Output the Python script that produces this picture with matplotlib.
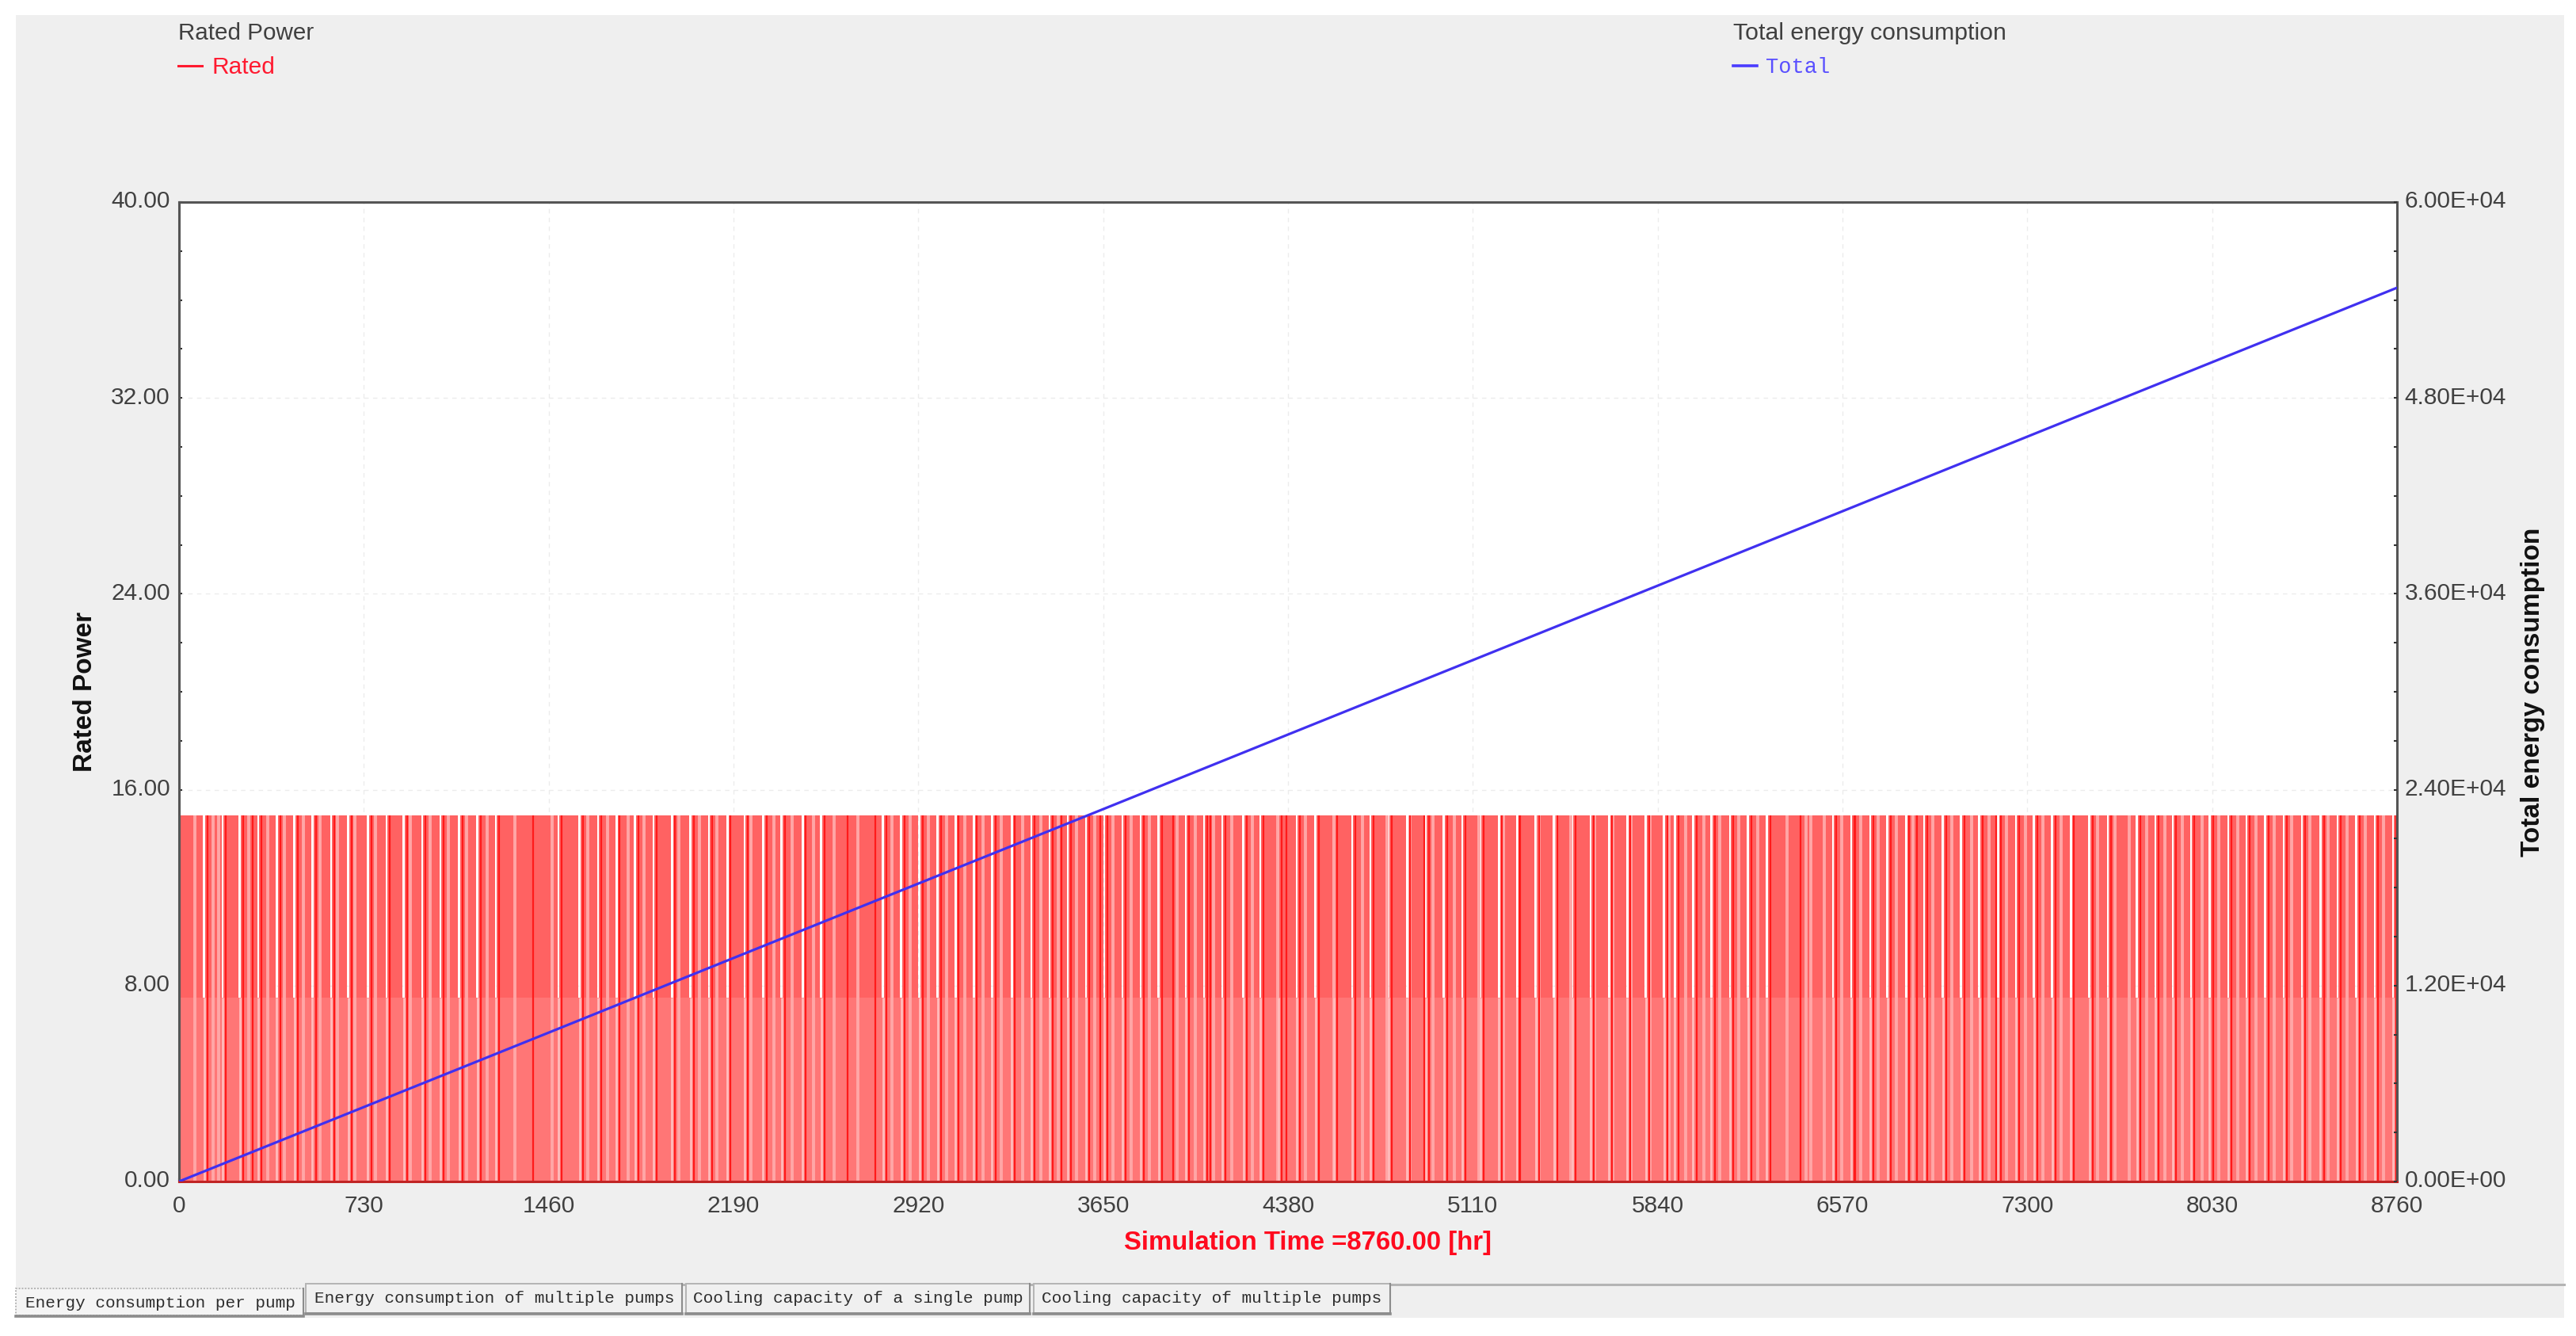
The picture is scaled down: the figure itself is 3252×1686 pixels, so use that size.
import matplotlib
matplotlib.use("Agg")
import matplotlib.pyplot as plt
from matplotlib.patches import Rectangle
from matplotlib.lines import Line2D
from matplotlib.ticker import AutoMinorLocator
from matplotlib.transforms import ScaledTranslation

W, H = 3252, 1686
plt.rcParams['font.family'] = ['Liberation Sans', 'DejaVu Sans']

# ---- data ----
x_ticks = [0, 730, 1460, 2190, 2920, 3650, 4380, 5110, 5840, 6570, 7300, 8030, 8760]
left_ticks = [0, 8, 16, 24, 32, 40]
right_ticks = [0, 12000, 24000, 36000, 48000, 60000]
right_labels = ['0.00E+00', '1.20E+04', '2.40E+04', '3.60E+04', '4.80E+04', '6.00E+04']

total_t = [0, 730, 1460, 2190, 2920, 3650, 4380, 5110, 5840, 6570, 7300, 8030, 8760]
total_v = [0, 4560, 9120, 13690, 18250, 22810, 27380, 31940, 36500, 41060, 45630, 50190, 54750]

rated_on = 14.95
rated_low = 7.5

# hours at which Rated falls from full power to the low level (white stripes above 7.5)
rated_gap_hours = [
    99, 172, 240, 313, 386, 456, 527, 600, 668, 746, 819, 887, 960, 1032, 1106, 1178,
    1251, 1499, 1582, 1655, 1728, 1801, 1874, 1947, 2020, 2093, 2166, 2234, 2307, 2380,
    2463, 2536, 2780, 2852, 2924, 2996, 3067, 3139, 3211, 3289, 3367, 3438, 3510, 3582,
    3654, 3726, 3798, 3869, 3977, 4049, 4121, 4204, 4270, 4343, 4415, 4488, 4560, 4633,
    4705, 4778, 4850, 4923, 4995, 5068, 5140, 5213, 5285, 5358, 5430, 5503, 5575, 5648,
    5720, 5793, 5865, 5908, 5980, 6052, 6126, 6197, 6271, 6533, 6605, 6679, 6747, 6821,
    6892, 6966, 7038, 7110, 7184, 7255, 7326, 7398, 7472, 7545, 7618, 7733, 7806, 7874,
    7947, 8020, 8093, 8166, 8239, 8312, 8385, 8458, 8526, 8599, 8672, 8745]

# pale stripes (short running spells blurred to pink)
rated_pale_hours = [
    63, 136, 156, 276, 349, 417, 490, 558, 626, 694, 777, 913, 991, 1064, 1137, 1217,
    1326, 1472, 1613, 1691, 1775, 1838, 1973, 2057, 2124, 2260, 2349, 2422, 2505, 2588,
    2682, 2816, 2888, 2960, 3031, 3103, 3175, 3247, 3331, 3403, 3474, 3546, 3618, 3690,
    3762, 3833, 3941, 4013, 4085, 4157, 4240, 4338, 4450, 4561, 4673, 4771, 4862, 4953,
    5036, 5134, 5232, 5372, 5441, 5497, 5590, 5663, 5736, 5809, 5885, 5949, 6023, 6086,
    6160, 6234, 6351, 6425, 6446, 6499, 6568, 6642, 6710, 6784, 6848, 6927, 7001, 7081,
    7149, 7218, 7292, 7361, 7435, 7577, 7645, 7702, 7770, 7843, 7911, 7989, 8057, 8130,
    8203, 8276, 8343, 8416, 8489, 8562, 8635, 8708]

# isolated solid stripes (long running spells)
rated_solid_hours = [3486, 3639, 3926, 4072, 4373, 4918, 5295, 6404, 6620, 6864, 7176,
                     290, 1400, 2640, 2750]

# ---- figure ----
def fx(p):
    return p / W
def fy(p):
    return 1 - p / H

fig = plt.figure(figsize=(W / 100, H / 100), dpi=100, facecolor='white')

# window background
fig.add_artist(Rectangle((fx(20), fy(1663)), fx(3237 - 20), (1663 - 19) / H,
                         transform=fig.transFigure, fc='#efefef', ec='none', zorder=-5))

L, R, T, B = 226, 3026, 255, 1491
ax = fig.add_axes([fx(L), fy(B), (R - L) / W, (B - T) / H], facecolor='white')
ax.set_xlim(0, 8760)
ax.set_ylim(0, 40)

# Rated series: upper band as a stepped area that drops at each gap
half = 4.0
xs, ys = [0.0], [rated_on]
for g in rated_gap_hours:
    xs += [g - half, g - half, g + half, g + half]
    ys += [rated_on, rated_low, rated_low, rated_on]
xs.append(8760.0)
ys.append(rated_on)
ax.fill_between(xs, rated_low, ys, color='#ff6262', lw=0, zorder=2)
ax.fill_between([0, 8760], 0, rated_low, color='#ff7676', lw=0, zorder=2)

# pale and solid stripes
ax.vlines(rated_pale_hours, 0, rated_on, color='#ffa6a6', lw=2.8, zorder=2.2)
ax.vlines([g + 13 for g in rated_gap_hours] + rated_solid_hours, 0, rated_on,
          color='#ff1a1a', lw=1.6, zorder=2.3)
ax.vlines(rated_gap_hours, 0, rated_low, color='#ffbcbc', lw=2.0, zorder=2.25)

ax.set_xticks(x_ticks)
ax.set_yticks(left_ticks)
ax.set_yticklabels([f'{v:.2f}' for v in left_ticks])
ax.xaxis.set_minor_locator(AutoMinorLocator(4))
ax.yaxis.set_minor_locator(AutoMinorLocator(4))
ax.grid(True, which='major', color='#ececec', lw=1.0, ls=(0, (4, 4)), zorder=1)
ax.set_axisbelow(True)
ax.tick_params(axis='both', which='major', direction='in', length=3, width=1.5,
               color='#333333', labelcolor='#404040', labelsize=21.5)
ax.tick_params(axis='both', which='minor', direction='in', length=3, width=1.5, color='#333333')
ax.tick_params(axis='x', which='major', pad=12.5)
ax.tick_params(axis='y', which='major', pad=8)
for s in ax.spines.values():
    s.set_color('#555555')
    s.set_linewidth(2.2)
    s.set_zorder(4)
ax.spines['bottom'].set_color('#c02424')

ax2 = ax.twinx()
ax2.set_ylim(0, 60000)
ax2.set_yticks(right_ticks)
ax2.set_yticklabels(right_labels)
ax2.yaxis.set_minor_locator(AutoMinorLocator(4))
ax2.tick_params(axis='y', which='major', direction='in', length=3, width=1.5,
                color='#333333', labelcolor='#404040', labelsize=21.5, pad=7)
ax2.tick_params(axis='y', which='minor', direction='in', length=3, width=1.5, color='#333333')
for s in ax2.spines.values():
    s.set_visible(False)
ax2.plot(total_t, total_v, color='#4030f0', lw=2.3, zorder=5, clip_on=True)

# the y tick labels sit slightly above their ticks in the reference
up = ScaledTranslation(0, 3.5 / 100, fig.dpi_scale_trans)
for a in (ax, ax2):
    for lab in a.yaxis.get_majorticklabels():
        lab.set_transform(lab.get_transform() + up)

# axis titles
fig.text(fx(107), fy(873), 'Rated Power', rotation=90, ha='center', va='center',
         fontsize=24, fontweight='bold', color='#111111')
fig.text(fx(3197), fy(873), 'Total energy consumption', rotation=90, ha='center', va='center',
         fontsize=24, fontweight='bold', color='#111111')
fig.text(fx(1651), fy(1568), 'Simulation Time =8760.00 [hr]', ha='center', va='center',
         fontsize=23.7, fontweight='bold', color='#ff0a1e')

# legends
fig.text(fx(225), fy(42), 'Rated Power', ha='left', va='center', fontsize=21.3, color='#404040')
fig.add_artist(Line2D([fx(225), fx(255)], [fy(83), fy(83)], color='#ff1a30', lw=2.2,
                      transform=fig.transFigure))
fig.text(fx(268), fy(85), 'Rated', ha='left', va='center', fontsize=21.5, color='#ff1a30')
fig.text(fx(2188), fy(42), 'Total energy consumption', ha='left', va='center', fontsize=21.8,
         color='#404040')
fig.add_artist(Line2D([fx(2188), fx(2218)], [fy(83), fy(83)], color='#4a3cff', lw=2.6,
                      transform=fig.transFigure))
fig.text(fx(2229), fy(85), 'Total', ha='left', va='center', fontsize=19.5, color='#5a50ff',
         family='Liberation Mono')

# tab strip
fig.add_artist(Line2D([fx(861), fx(3237)], [fy(1621), fy(1621)], color='#b4b4b4', lw=2.2,
                      transform=fig.transFigure, zorder=1))
tabs = [
    ('Energy consumption per pump', 20, 383, 1626, 1660, 32, 1644, True),
    ('Energy consumption of multiple pumps', 386, 861, 1620, 1657, 397, 1639, False),
    ('Cooling capacity of a single pump', 866, 1300, 1620, 1657, 875, 1639, False),
    ('Cooling capacity of multiple pumps', 1305, 1755, 1620, 1657, 1315, 1639, False),
]
for label, x0, x1, y0, y1, tx, ty, selected in tabs:
    fig.add_artist(Rectangle((fx(x0), fy(y1)), (x1 - x0) / W, (y1 - y0) / H,
                             transform=fig.transFigure,
                             fc='#f4f4f4' if selected else '#f0f0f0',
                             ec='#b4b4b4', lw=1.4, ls=(0, (1, 1)) if selected else '-', zorder=2))
    fig.add_artist(Line2D([fx(x0), fx(x1)], [fy(y1 + 1), fy(y1 + 1)], color='#8c8c8c', lw=2.6,
                          transform=fig.transFigure, zorder=3))
    fig.add_artist(Line2D([fx(x1), fx(x1)], [fy(y0), fy(y1)], color='#8c8c8c', lw=1.5,
                          transform=fig.transFigure, zorder=3))
    fig.text(fx(tx), fy(ty), label, ha='left', va='center', fontsize=15.1, color='#2e2e2e',
             family='Liberation Mono', zorder=4)

fig.savefig('out.png', dpi=100, facecolor='white')
